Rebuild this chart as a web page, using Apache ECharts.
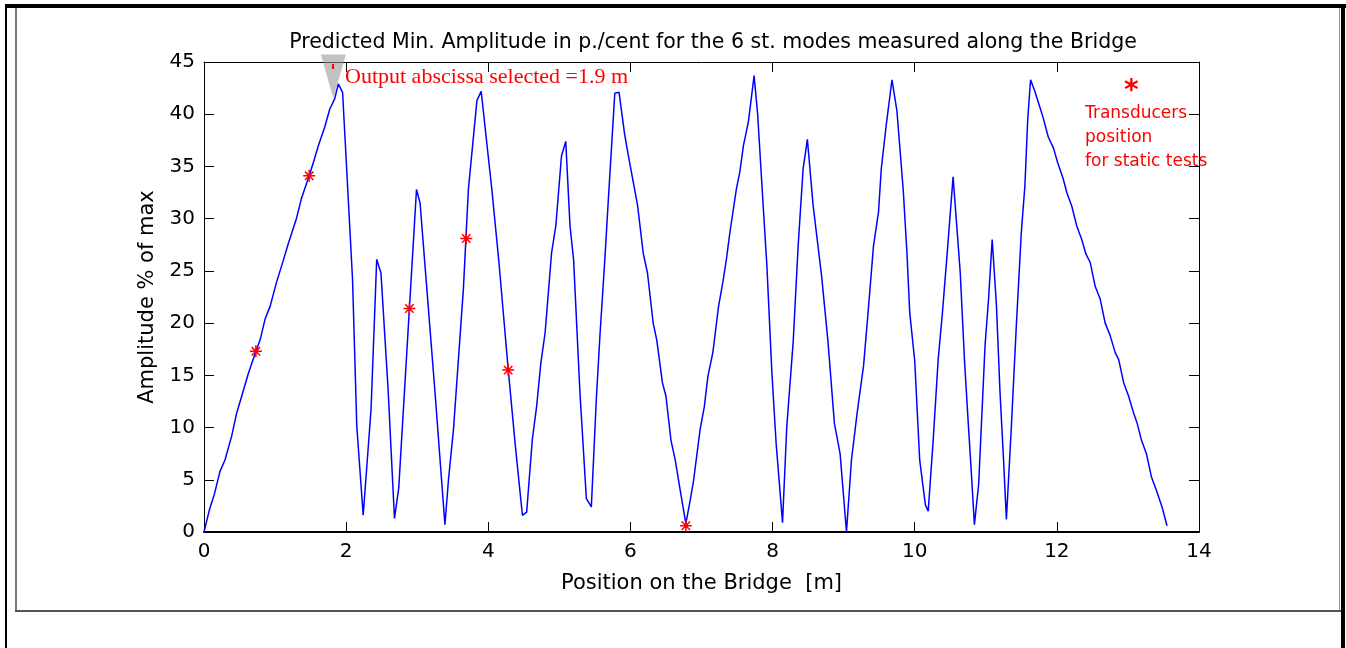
<!DOCTYPE html>
<html>
<head>
<meta charset="utf-8">
<script src="https://cdn.jsdelivr.net/npm/echarts@6/dist/echarts.min.js"></script>
<style>
  html, body { margin: 0; padding: 0; background: #ffffff; }
  #chart { width: 1346px; height: 648px; }
</style>
</head>
<body>
<div id="chart"></div>
<script>
// ---- Data ----
const posX = [0,0.075,0.145,0.225,0.295,0.39,0.46,0.53,0.625,0.73,0.79,0.86,0.93,1.02,1.12,1.19,1.30,1.37,1.48,1.54,1.61,1.70,1.77,1.84,1.89,1.95,
  2.09,2.15,2.24,2.35,2.43,2.49,2.59,2.68,2.74,2.89,2.99,3.04,3.14,3.25,3.39,3.44,3.51,3.65,3.72,3.84,3.90,4.05,4.15,4.28,4.38,4.48,4.54,
  4.62,4.68,4.74,4.80,4.89,4.95,5.03,5.09,5.15,5.20,5.29,5.38,5.45,5.52,5.57,5.64,5.69,5.78,5.84,5.92,5.98,6.04,6.10,6.18,6.24,6.32,6.37,
  6.45,6.50,6.57,6.63,6.70,6.78,6.84,6.89,6.98,7.04,7.09,7.16,7.24,7.30,7.35,7.40,7.49,7.54,7.59,7.66,7.74,7.79,7.87,7.92,7.99,8.05,8.14,
  8.20,8.29,8.36,8.43,8.49,8.57,8.69,8.78,8.87,8.95,9.04,9.11,9.19,9.28,9.34,9.42,9.49,9.53,9.60,9.68,9.75,9.84,9.89,9.93,10.00,10.07,
  10.15,10.19,10.26,10.33,10.39,10.45,10.54,10.64,10.70,10.75,10.80,10.84,10.90,10.99,11.04,11.09,11.15,11.20,11.25,11.29,11.36,11.43,
  11.50,11.55,11.59,11.63,11.69,11.75,11.81,11.88,11.95,12.01,12.09,12.14,12.21,12.28,12.35,12.41,12.47,12.54,12.61,12.68,12.75,12.82,
  12.87,12.94,13.01,13.08,13.13,13.19,13.26,13.33,13.40,13.48,13.55];
const amplitude = [0,2.1,3.6,5.8,6.9,9.2,11.4,13.0,15.2,17.3,18.4,20.4,21.6,23.9,26.1,27.7,30.0,31.9,34.1,35.4,37.0,38.8,40.5,41.5,42.9,42.1,
  24.2,10.1,1.6,11.7,26.1,24.8,13.7,1.3,4.2,21.4,32.8,31.5,22.9,13.4,0.7,5.0,9.8,23.3,32.8,41.3,42.2,32.8,25.8,15.6,8.3,1.6,1.9,
  8.9,12.0,16.2,19.1,26.7,29.3,36.0,37.4,29.3,26.1,13.3,3.2,2.4,12.7,18.7,26.1,31.9,42.0,42.1,38.0,35.7,33.5,31.3,26.7,24.8,20.0,18.4,
  14.3,13.0,8.8,6.9,4.0,0.8,3.0,5.0,9.8,12.0,14.9,17.2,21.6,23.9,26.1,28.7,32.8,34.5,37.0,39.3,43.7,40.0,31.0,25.5,15.3,8.5,0.9,
  10.1,18.2,27.4,34.8,37.6,31.3,24.5,18.2,10.4,7.5,0.0,6.9,11.4,15.9,20.7,27.4,30.6,34.8,39.0,43.3,40.3,32.6,26.8,21.0,16.4,6.9,
  2.6,2.0,8.8,16.5,21.0,26.1,34.0,24.9,16.5,10.8,5.3,0.7,4.6,17.9,22.4,28.0,21.7,13.4,6.9,1.2,10.1,19.8,
  28.7,33.1,39.5,43.3,42.2,40.9,39.6,37.8,36.8,35.4,33.8,32.5,31.2,29.3,28.0,26.6,25.8,23.5,22.3,20.0,18.8,17.2,
  16.5,14.3,13.0,11.4,10.4,8.8,7.5,5.3,4.0,2.4,0.6];
const transducerX = [0.73,1.48,2.89,3.69,4.28,6.78];
const transducerY = [17.3,34.1,21.4,28.1,15.5,0.6];
const cursorX = [1.82];
const cursorY = [41.5];
const titleText = 'Predicted Min. Amplitude in p./cent for the 6 st. modes measured along the Bridge';
const xName = 'Position on the Bridge  [m]';
const yName = 'Amplitude % of max';
const cursorText = 'Output abscissa selected =1.9 m';
const legendLines = ['Transducers', 'position', 'for static tests'];

// ---- Chart ----
const chart = echarts.init(document.getElementById('chart'), null, { renderer: 'canvas' });
const sans = 'DejaVu Sans';
const starPath = 'path://M0,5L10,5M5,0L5,10M1.5,1.5L8.5,8.5M1.5,8.5L8.5,1.5';

const G = { left: 204, top: 62, width: 995, height: 470 };

const option = {
  animation: false,
  backgroundColor: '#ffffff',
  title: {
    text: titleText,
    left: 708, top: 27, textAlign: 'center',
    textStyle: { fontFamily: sans, fontSize: 20.5, fontWeight: 'normal', color: '#000' }
  },
  grid: { left: G.left, top: G.top, width: G.width, height: G.height, containLabel: false },
  xAxis: [
    {
      type: 'value', min: 0, max: 14, interval: 2, position: 'bottom',
      name: xName, nameLocation: 'middle', nameGap: 41,
      nameTextStyle: { fontFamily: sans, fontSize: 21, color: '#000' },
      axisLine: { show: true, onZero: false, lineStyle: { color: '#000', width: 2 } },
      axisTick: { show: true, inside: true, length: 10, lineStyle: { color: '#000', width: 1 } },
      axisLabel: { fontFamily: sans, fontSize: 20, color: '#000', margin: 10 },
      splitLine: { show: false }
    },
    {
      type: 'value', min: 0, max: 14, interval: 2, position: 'top',
      axisLine: { show: true, onZero: false, lineStyle: { color: '#000', width: 1 } },
      axisTick: { show: true, inside: true, length: 10, lineStyle: { color: '#000', width: 1 } },
      axisLabel: { show: false }, splitLine: { show: false }
    }
  ],
  yAxis: [
    {
      type: 'value', min: 0, max: 45, interval: 5, position: 'left',
      name: yName, nameLocation: 'middle', nameGap: 46, nameRotate: 90,
      nameTextStyle: { fontFamily: sans, fontSize: 21, color: '#000' },
      axisLine: { show: true, onZero: false, lineStyle: { color: '#000', width: 1 } },
      axisTick: { show: true, inside: true, length: 10, lineStyle: { color: '#000', width: 1 } },
      axisLabel: { fontFamily: sans, fontSize: 20, color: '#000', margin: 9 },
      splitLine: { show: false }
    },
    {
      type: 'value', min: 0, max: 45, interval: 5, position: 'right',
      axisLine: { show: true, onZero: false, lineStyle: { color: '#000', width: 1 } },
      axisTick: { show: true, inside: true, length: 10, lineStyle: { color: '#000', width: 1 } },
      axisLabel: { show: false }, splitLine: { show: false }
    }
  ],
  series: [
    {
      type: 'line', xAxisIndex: 0, yAxisIndex: 0,
      data: posX.map((x, i) => [x, amplitude[i]]),
      showSymbol: false, symbol: 'none',
      lineStyle: { color: '#0000ff', width: 1.5 },
      z: 3
    },
    {
      type: 'scatter', xAxisIndex: 0, yAxisIndex: 0,
      data: transducerX.map((x, i) => [x, transducerY[i]]),
      symbol: starPath, symbolSize: 12,
      itemStyle: { color: 'rgba(0,0,0,0)', borderColor: '#ff0000', borderWidth: 1.5, opacity: 1 },
      z: 4
    },
    {
      type: 'scatter', xAxisIndex: 0, yAxisIndex: 0,
      data: cursorX.map((x, i) => [x, cursorY[i]]),
      symbol: 'path://M0,0L25,0L12.5,44Z', symbolSize: [25, 44], symbolKeepAspect: false,
      symbolOffset: [0, '-50%'],
      itemStyle: { color: 'rgba(150,150,150,0.72)' },
      z: 5
    }
  ],
  graphic: [
    // outer page frame
    { type: 'rect', shape: { x: 5, y: 4, width: 1341, height: 4 }, style: { fill: '#000' }, silent: true },
    { type: 'rect', shape: { x: 5, y: 4, width: 2, height: 644 }, style: { fill: '#000' }, silent: true },
    { type: 'rect', shape: { x: 1341, y: 4, width: 4, height: 644 }, style: { fill: '#000' }, silent: true },
    // inner figure panel
    { type: 'rect', shape: { x: 15, y: 8, width: 2, height: 604 }, style: { fill: '#777' }, silent: true },
    { type: 'rect', shape: { x: 15, y: 610, width: 1326, height: 2 }, style: { fill: '#555' }, silent: true },
    { type: 'rect', shape: { x: 1339, y: 8, width: 1, height: 602 }, style: { fill: '#999' }, silent: true },
    // small red mark inside the cursor
    { type: 'rect', shape: { x: 332, y: 64, width: 2, height: 5 }, style: { fill: '#ff0000' }, z: 10, silent: true },
    // cursor text
    { type: 'text', left: 345, top: 66, z: 10, silent: true,
      style: { text: cursorText, fill: '#ff0000', font: '22px "Liberation Serif"' } },
    // legend note
    { type: 'text', left: 1124, top: 78, z: 10, silent: true,
      style: { text: '*', fill: '#ff0000', font: 'bold 28px "DejaVu Sans"' } },
    { type: 'text', left: 1085, top: 102, z: 10, silent: true,
      style: { text: legendLines.join('\n'), fill: '#ff0000', font: '17px "DejaVu Sans"', lineHeight: 24 } }
  ]
};
chart.setOption(option);
</script>
</body>
</html>
